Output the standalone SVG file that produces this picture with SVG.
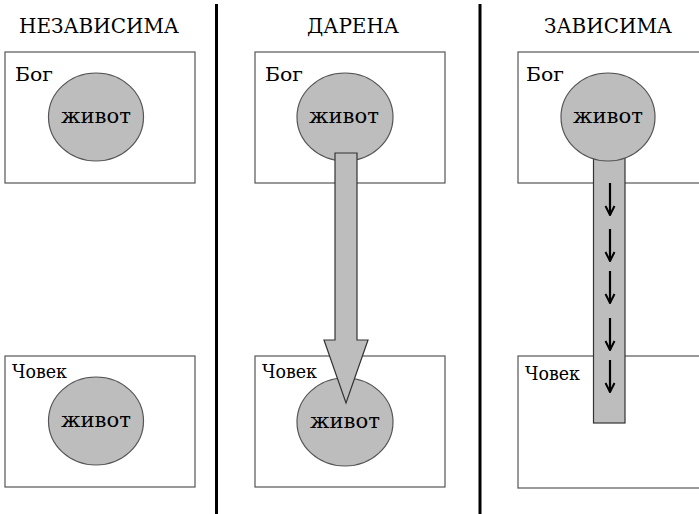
<svg xmlns="http://www.w3.org/2000/svg" width="699" height="514" viewBox="0 0 699 514">
<style>
text{font-family:"DejaVu Serif","Liberation Serif",serif;fill:#000}
.title{font-size:20px;text-anchor:middle}
.lbl{font-size:19px}
.life{font-size:20px;text-anchor:middle}
.box{fill:#fff;stroke:#555;stroke-width:1.2}
.ell{fill:#bdbdbd;stroke:#555;stroke-width:1.2}
.bar{fill:#bdbdbd;stroke:#333;stroke-width:1.2}
.div{stroke:#000;stroke-width:3}
.small{stroke:#000;stroke-width:2.2;fill:none}
</style>
<defs>
<marker id="ah" viewBox="0 0 12 12" refX="11" refY="6" markerWidth="12" markerHeight="12" markerUnits="userSpaceOnUse" orient="auto">
<path d="M2,1.5 L11,6 L2,10.5" fill="none" stroke="#000" stroke-width="2"/>
</marker>
</defs>
<rect width="699" height="514" fill="#fff"/>
<g id="dividers">
<line class="div" x1="216.5" y1="4" x2="216.5" y2="514"/>
<line class="div" x1="480" y1="4" x2="480" y2="514"/>
</g>
<g id="titles">
<text class="title" x="99" y="33" textLength="160" lengthAdjust="spacingAndGlyphs">НЕЗАВИСИМА</text>
<text class="title" x="353" y="33" textLength="92" lengthAdjust="spacingAndGlyphs">ДАРЕНА</text>
<text class="title" x="608" y="33" textLength="128" lengthAdjust="spacingAndGlyphs">ЗАВИСИМА</text>
</g>
<g id="p1-god">
<rect class="box" x="5" y="52" width="190" height="131"/>
<text class="lbl" x="15" y="81" textLength="38" lengthAdjust="spacingAndGlyphs">Бог</text>
<ellipse class="ell" cx="96" cy="117" rx="47.5" ry="44"/>
<text class="life" x="96" y="123" textLength="70" lengthAdjust="spacingAndGlyphs">живот</text>
</g>
<g id="p1-man">
<rect class="box" x="5" y="356" width="190" height="131"/>
<text class="lbl" x="12" y="378" textLength="55" lengthAdjust="spacingAndGlyphs">Човек</text>
<ellipse class="ell" cx="96" cy="421" rx="47.5" ry="44"/>
<text class="life" x="96" y="427" textLength="70" lengthAdjust="spacingAndGlyphs">живот</text>
</g>
<g id="p2-god">
<rect class="box" x="255" y="52" width="190" height="131"/>
<text class="lbl" x="265" y="81" textLength="38" lengthAdjust="spacingAndGlyphs">Бог</text>
<ellipse class="ell" cx="345" cy="117" rx="48" ry="44"/>
<text class="life" x="344" y="123" textLength="70" lengthAdjust="spacingAndGlyphs">живот</text>
</g>
<g id="p2-man">
<rect class="box" x="255" y="356" width="190" height="131"/>
<text class="lbl" x="262" y="378" textLength="55" lengthAdjust="spacingAndGlyphs">Човек</text>
<ellipse class="ell" cx="345" cy="422" rx="48" ry="44"/>
<text class="life" x="345" y="428" textLength="70" lengthAdjust="spacingAndGlyphs">живот</text>
</g>
<g id="p3-god">
<rect class="box" x="518" y="52" width="190" height="131"/>
<text class="lbl" x="526" y="81" textLength="38" lengthAdjust="spacingAndGlyphs">Бог</text>
</g>
<g id="p3-man">
<rect class="box" x="518" y="356" width="190" height="132"/>
<text class="lbl" x="525" y="380" textLength="55" lengthAdjust="spacingAndGlyphs">Човек</text>
</g>
<g id="connectors">
<polygon class="bar" points="335,153 357,153 357,340 368,340 346,403 324,340 335,340"/>
<rect class="bar" x="593.5" y="150" width="31.5" height="273"/>
<line class="small" x1="610" y1="183" x2="610" y2="215" marker-end="url(#ah)"/>
<line class="small" x1="610" y1="229" x2="610" y2="261" marker-end="url(#ah)"/>
<line class="small" x1="610" y1="271" x2="610" y2="303" marker-end="url(#ah)"/>
<line class="small" x1="610" y1="318" x2="610" y2="350" marker-end="url(#ah)"/>
<line class="small" x1="610" y1="360" x2="610" y2="392" marker-end="url(#ah)"/>
</g>
<g id="p3-life">
<ellipse class="ell" cx="608" cy="117" rx="47" ry="44"/>
<text class="life" x="608" y="123" textLength="70" lengthAdjust="spacingAndGlyphs">живот</text>
</g>
</svg>
